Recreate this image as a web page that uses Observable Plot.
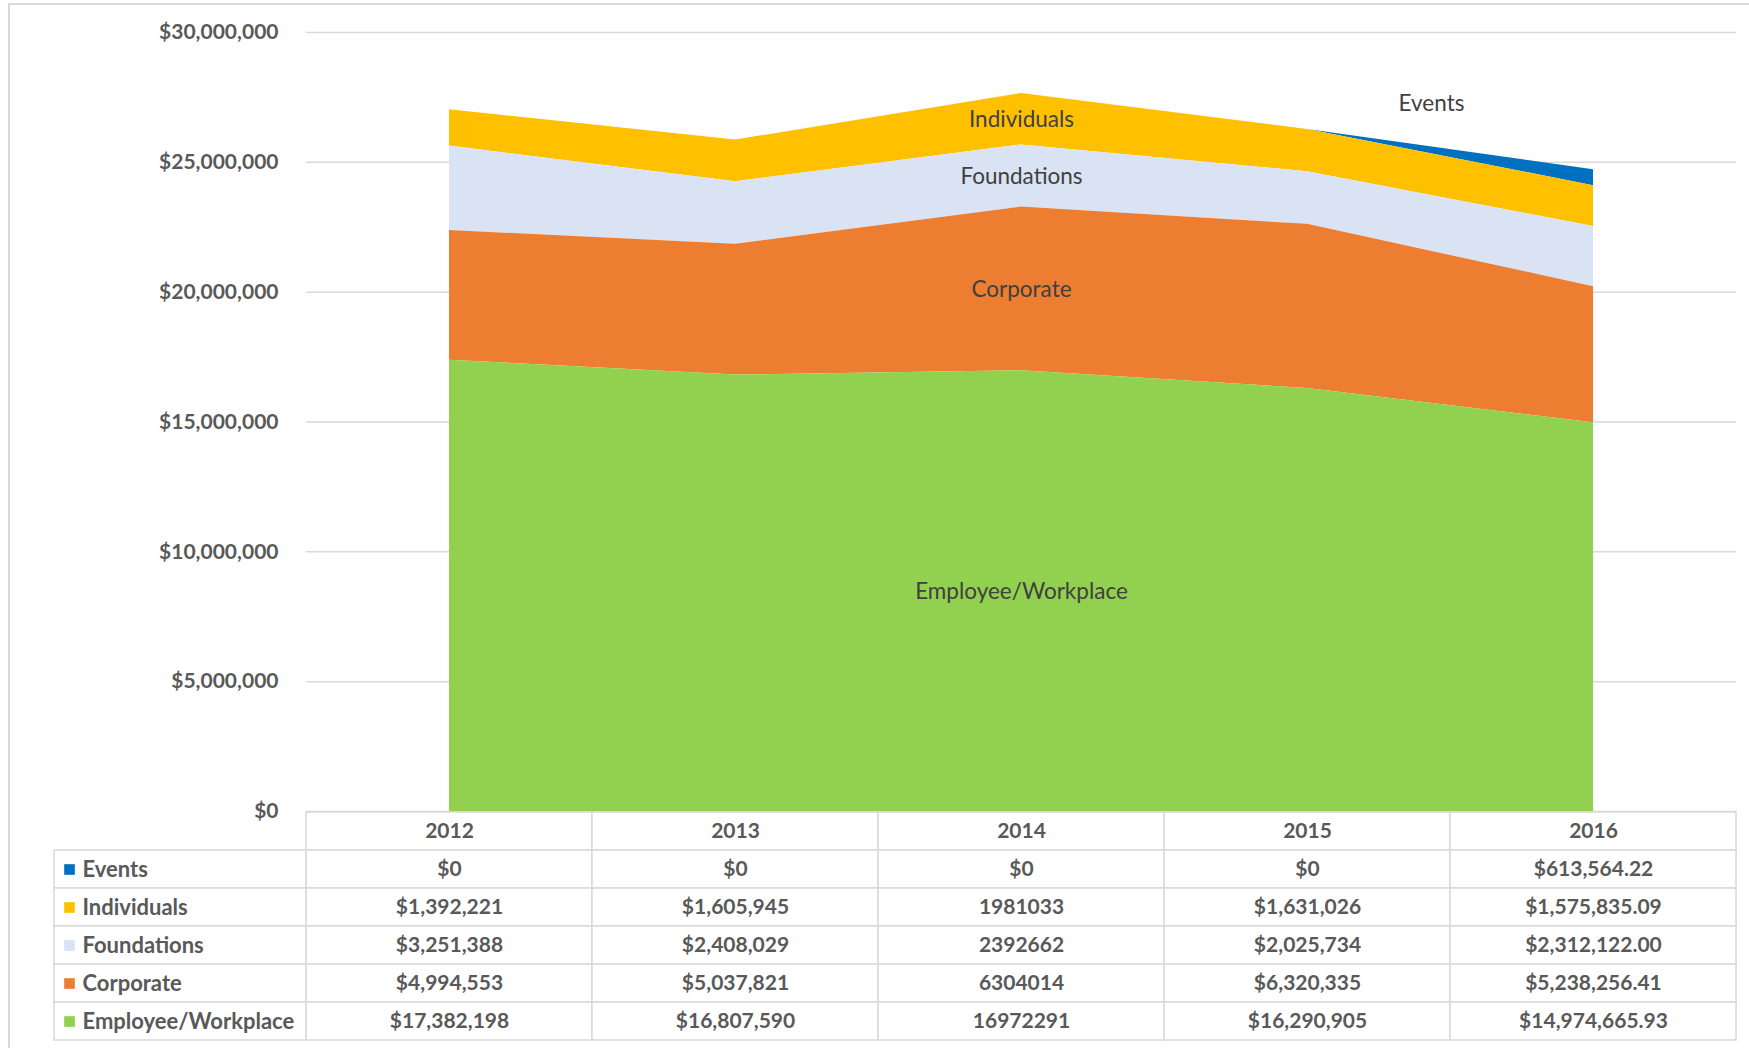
<!DOCTYPE html>
<html><head><meta charset="utf-8">
<script src="https://cdn.jsdelivr.net/npm/d3@7"></script>
<script src="https://cdn.jsdelivr.net/npm/@observablehq/plot@0.6"></script>
<style>
body{margin:0;background:#fff;font-family:Lato,sans-serif;}
#wrap{position:relative;width:1749px;height:1048px;overflow:hidden;background:#fff;}
#border{position:absolute;left:8px;top:3px;width:1745px;height:1100px;border:2px solid #D9D9D9;box-sizing:border-box;}
#chart,#table{position:absolute;left:0;}
#chart{top:0}
#table{top:811px}
</style></head><body>
<div id="wrap"><div id="border"></div><div id="chart"></div><div id="table"></div></div>
<script>
// ---- data ----
const years = [2012, 2013, 2014, 2015, 2016];
const seriesNames = ["Events", "Individuals", "Foundations", "Corporate", "Employee/Workplace"];
const seriesColors = ["#0070C0", "#FFC000", "#DAE3F3", "#ED7D31", "#92D050"];
const events = [0, 0, 0, 0, 613564.22];
const individuals = [1392221, 1605945, 1981033, 1631026, 1575835.09];
const foundations = [3251388, 2408029, 2392662, 2025734, 2312122.00];
const corporate = [4994553, 5037821, 6304014, 6320335, 5238256.41];
const employee = [17382198, 16807590, 16972291, 16290905, 14974665.93];
const eventsText = ["$0", "$0", "$0", "$0", "$613,564.22"];
const individualsText = ["$1,392,221", "$1,605,945", "1981033", "$1,631,026", "$1,575,835.09"];
const foundationsText = ["$3,251,388", "$2,408,029", "2392662", "$2,025,734", "$2,312,122.00"];
const corporateText = ["$4,994,553", "$5,037,821", "6304014", "$6,320,335", "$5,238,256.41"];
const employeeText = ["$17,382,198", "$16,807,590", "16972291", "$16,290,905", "$14,974,665.93"];
const yTicks = [0, 5000000, 10000000, 15000000, 20000000, 25000000, 30000000];

// ---- build ----
const valueArrays = [events, individuals, foundations, corporate, employee];
const textArrays = [eventsText, individualsText, foundationsText, corporateText, employeeText];
const data = seriesNames.flatMap((s, i) => years.map((y, j) => ({series: s, year: y, value: valueArrays[i][j], label: textArrays[i][j]})));
const stackOrder = seriesNames.slice().reverse();
const fmt = d => "$" + d3.format(",")(d);
const axisColor = "#595959";
const gridColor = "#D9D9D9";
const font = "Lato, sans-serif";

const labelYear = years[2];
const lastYear = years[years.length - 1];
const lastTotal = d3.sum(valueArrays, a => a[a.length - 1]);

const chart = Plot.plot({
  width: 1749, height: 850,
  marginTop: 32, marginBottom: 39, marginLeft: 306, marginRight: 13,
  style: {background: "transparent", fontFamily: font, overflow: "visible"},
  x: {type: "linear", domain: [years[0] - 0.5, lastYear + 0.5], axis: null},
  y: {domain: [0, 30000000], axis: null},
  color: {domain: seriesNames, range: seriesColors},
  marks: [
    Plot.ruleY(yTicks, {stroke: gridColor, strokeWidth: 1.5}),
    Plot.areaY(data, {x: "year", y: "value", z: "series", fill: "series", order: stackOrder, curve: "linear"}),
    Plot.text(yTicks, {y: d => d, frameAnchor: "left", dx: -28, textAnchor: "end", text: fmt, fill: axisColor, fontSize: 21, fontWeight: 700}),
    Plot.text(data.filter(d => d.year === labelYear), Plot.stackY({
      x: "year", y: "value", z: "series", order: stackOrder,
      text: d => d.series === "Events" ? null : d.series,
      fill: "#404040", fontSize: 22.5, dy: 1
    })),
    Plot.text([{year: lastYear, value: lastTotal, series: "Events"}], {
      x: "year", y: "value", text: "series", dx: -162, dy: -66, fill: "#404040", fontSize: 22.5
    })
  ]
});
document.getElementById("chart").appendChild(chart);

const rows = ["header", ...seriesNames];
const headerCells = years.map(y => ({row: "header", year: y, label: String(y)}));
const cells = headerCells.concat(data.map(d => ({row: d.series, year: d.year, label: d.label})));

const table = Plot.plot({
  width: 1749, height: 237,
  marginTop: 0, marginBottom: 7, marginLeft: 54, marginRight: 13,
  style: {background: "transparent", fontFamily: font, overflow: "visible"},
  x: {type: "linear", domain: [years[0] - 1.5, years[0] - 0.5, lastYear + 0.5], range: [54, 306, 1736], axis: null},
  y: {type: "band", domain: rows, padding: 0, axis: null},
  color: {domain: seriesNames, range: seriesColors},
  marks: [
    Plot.barX(cells, {x1: d => d.year - 0.5, x2: d => d.year + 0.5, y: "row", fill: "white", stroke: gridColor, strokeWidth: 1.5}),
    Plot.barX(seriesNames, {x1: () => years[0] - 1.5, x2: () => years[0] - 0.5, y: d => d, fill: "white", stroke: gridColor, strokeWidth: 1.5}),
    Plot.text(cells, {x: "year", y: "row", text: "label", fill: axisColor, fontSize: 21, fontWeight: 700}),
    Plot.dot(seriesNames, {x: () => years[0] - 1.5, y: d => d, dx: 15, symbol: "square", r: 6, fill: d => d}),
    Plot.text(seriesNames, {x: () => years[0] - 1.5, y: d => d, dx: 28, textAnchor: "start", text: d => d, fill: axisColor, fontSize: 22, fontWeight: 700})
  ]
});
document.getElementById("table").appendChild(table);
</script>
</body></html>
